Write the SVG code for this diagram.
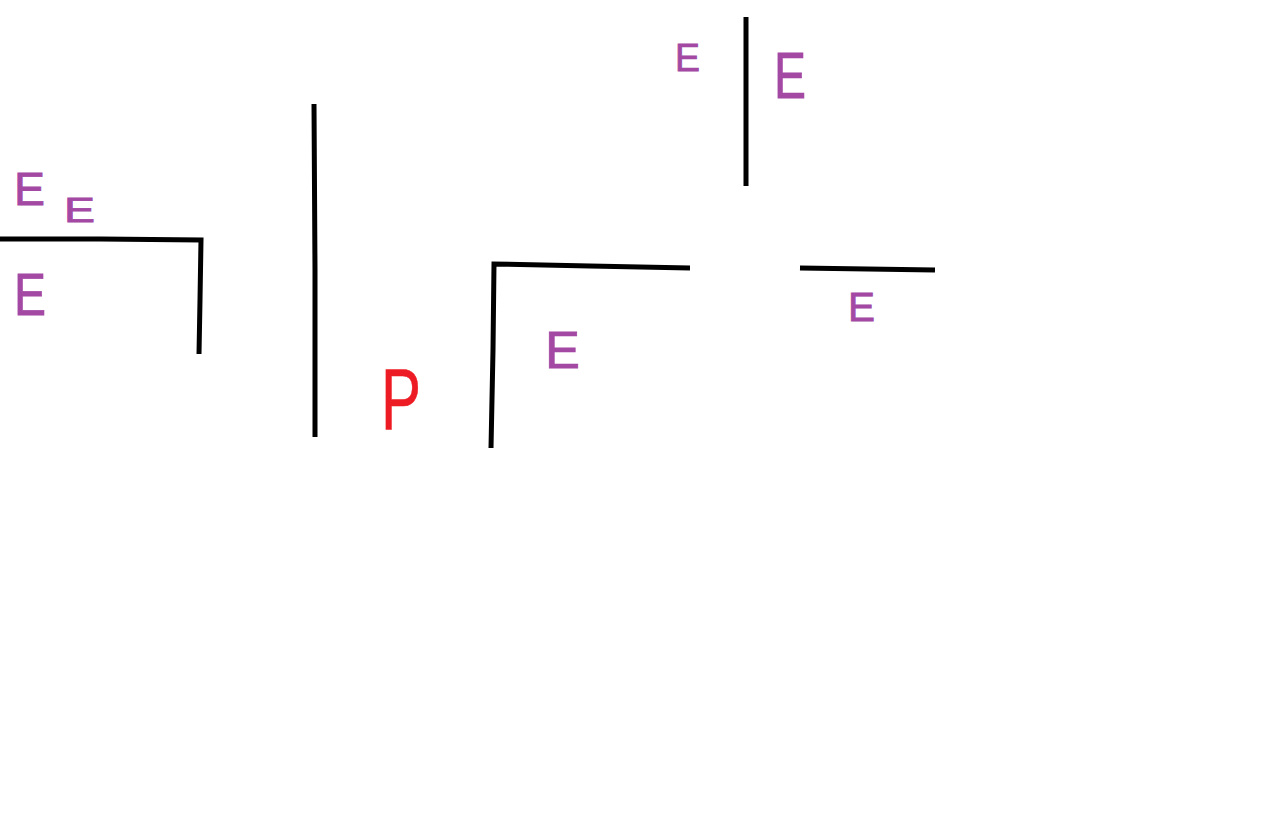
<svg xmlns="http://www.w3.org/2000/svg" width="1264" height="832" viewBox="0 0 1264 832">
<style>
.wall{fill:none;stroke:#000;stroke-width:5;stroke-linecap:butt;stroke-linejoin:miter}
.e{fill:#A349A4;stroke:#A349A4;stroke-width:0.8;font-family:"Liberation Sans",Arial,sans-serif}
.p{fill:#ED1C24;stroke:#ED1C24;stroke-width:0.6;font-family:"Liberation Sans",Arial,sans-serif}
</style>
<rect width="1264" height="832" fill="#fff"/>
<g id="walls">
<polyline class="wall" points="0,239 100,239 201,240 200,300 199,354"/>
<polyline class="wall" points="314,104 315,270 315,437"/>
<polyline class="wall" points="491,448 493,350 494,264 590,266 690,268"/>
<polyline class="wall" points="746,17 746,186"/>
<polyline class="wall" points="800,268 935,270"/>
</g>
<g id="labels">
<text class="e" x="14" y="205" font-size="46" textLength="31" lengthAdjust="spacingAndGlyphs">E</text>
<text class="e" x="64" y="222" font-size="35" textLength="31" lengthAdjust="spacingAndGlyphs">E</text>
<text class="e" x="14" y="315" font-size="59" textLength="32" lengthAdjust="spacingAndGlyphs">E</text>
<text class="e" x="675" y="71" font-size="38" textLength="25" lengthAdjust="spacingAndGlyphs">E</text>
<text class="e" x="774" y="98" font-size="64" textLength="32" lengthAdjust="spacingAndGlyphs">E</text>
<text class="e" x="545" y="368" font-size="52" textLength="35" lengthAdjust="spacingAndGlyphs">E</text>
<text class="e" x="848" y="321" font-size="40" textLength="27" lengthAdjust="spacingAndGlyphs">E</text>
<text class="p" x="381" y="429" font-size="88" textLength="40" lengthAdjust="spacingAndGlyphs">P</text>
</g>
</svg>
